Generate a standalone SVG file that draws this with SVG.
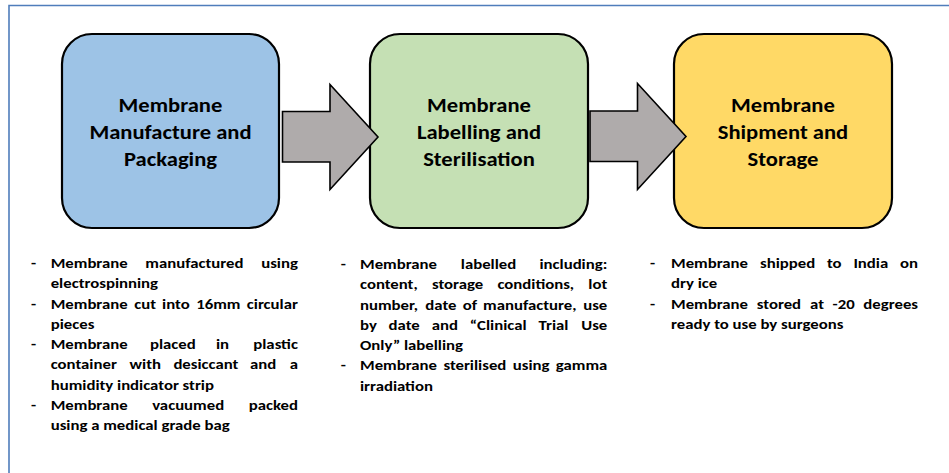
<svg xmlns="http://www.w3.org/2000/svg" width="949" height="473" viewBox="0 0 949 473">
<style>
.box{stroke:#000;stroke-width:2.2}
.arrow{fill:#AFABAB;stroke:#000;stroke-width:1.6;stroke-linejoin:miter}
text{font-family:Carlito,"Liberation Sans Narrow","Liberation Sans",sans-serif;font-weight:bold;fill:#000;transform-box:fill-box}
.title{font-size:20px;text-anchor:middle;transform-origin:center;transform:scaleX(1.13)}
.body text{font-size:14.7px;transform-origin:left center;transform:scaleX(1.14)}
.body text.e{text-anchor:end;transform-origin:right center}
</style>
<rect width="949" height="473" fill="#fff"/>
<path d="M9,473 V5.5 H949" fill="none" stroke="#4F7DBB" stroke-width="1.6"/>
<g id="node1">
<rect class="box" x="62" y="34" width="217" height="194" rx="30" fill="#9DC3E6"/>
<text class="title" x="170.5" y="112">Membrane</text>
<text class="title" x="170.5" y="139">Manufacture and</text>
<text class="title" x="170.5" y="166">Packaging</text>
</g>
<g id="node2">
<rect class="box" x="370" y="34" width="218" height="194" rx="30" fill="#C5E0B4"/>
<text class="title" x="479" y="112">Membrane</text>
<text class="title" x="479" y="139">Labelling and</text>
<text class="title" x="479" y="166">Sterilisation</text>
</g>
<g id="node3">
<rect class="box" x="674" y="34" width="218" height="194" rx="30" fill="#FFD966"/>
<text class="title" x="783" y="112">Membrane</text>
<text class="title" x="783" y="139">Shipment and</text>
<text class="title" x="783" y="166">Storage</text>
</g>
<g id="connectors">
<polygon class="arrow" points="282.5,111.5 330,111.5 330,84.5 378,137 330,189.5 330,162 282.5,162"/>
<polygon class="arrow" points="590,111 637.5,111 637.5,83.5 686,136.5 637.5,189.5 637.5,161.5 590,161.5"/>
</g>
<g id="notes1" class="body">
<text x="31" y="268">-</text>
<text x="50.7" y="268">Membrane</text><text x="145.3" y="268">manufactured</text><text class="e" x="298" y="268">using</text>
<text x="50.7" y="288.3">electrospinning</text>
<text x="31" y="308.6">-</text>
<text x="50.7" y="308.6">Membrane</text><text x="134.2" y="308.6">cut</text><text x="162.1" y="308.6">into</text><text x="196.2" y="308.6">16mm</text><text class="e" x="298" y="308.6">circular</text>
<text x="50.7" y="328.9">pieces</text>
<text x="31" y="349.2">-</text>
<text x="50.7" y="349.2">Membrane</text><text x="150" y="349.2">placed</text><text x="216" y="349.2">in</text><text class="e" x="298" y="349.2">plastic</text>
<text x="50.7" y="369.5">container</text><text x="129.6" y="369.5">with</text><text x="173.4" y="369.5">desiccant</text><text x="250" y="369.5">and</text><text class="e" x="298" y="369.5">a</text>
<text x="50.7" y="389.8">humidity indicator strip</text>
<text x="31" y="410.1">-</text>
<text x="50.7" y="410.1">Membrane</text><text x="152.2" y="410.1">vacuumed</text><text class="e" x="298" y="410.1">packed</text>
<text x="50.7" y="430.4">using a medical grade bag</text>
</g>
<g id="notes2" class="body">
<text x="340.7" y="269">-</text>
<text x="360" y="269">Membrane</text><text x="460.8" y="269">labelled</text><text class="e" x="607.3" y="269">including:</text>
<text x="360" y="289.3">content,</text><text x="432" y="289.3">storage</text><text x="497.4" y="289.3">conditions,</text><text class="e" x="607.3" y="289.3">lot</text>
<text x="360" y="309.6">number,</text><text x="425.3" y="309.6">date</text><text x="462.8" y="309.6">of</text><text x="483.1" y="309.6">manufacture,</text><text class="e" x="607.3" y="309.6">use</text>
<text x="360" y="329.9">by</text><text x="388.6" y="329.9">date</text><text x="431.8" y="329.9">and</text><text x="469.8" y="329.9">“Clinical</text><text x="538.6" y="329.9">Trial</text><text class="e" x="607.3" y="329.9">Use</text>
<text x="360" y="350.2">Only” labelling</text>
<text x="340.7" y="370.5">-</text>
<text x="360" y="370.5">Membrane</text><text x="443.4" y="370.5">sterilised</text><text x="512.8" y="370.5">using</text><text class="e" x="607.3" y="370.5">gamma</text>
<text x="360" y="390.8">irradiation</text>
</g>
<g id="notes3" class="body">
<text x="650" y="268">-</text>
<text x="671" y="268">Membrane</text><text x="760" y="268">shipped</text><text x="826.9" y="268">to</text><text x="853.4" y="268">India</text><text class="e" x="918" y="268">on</text>
<text x="671" y="288.3">dry ice</text>
<text x="650" y="308.6">-</text>
<text x="671" y="308.6">Membrane</text><text x="756.8" y="308.6">stored</text><text x="810.1" y="308.6">at</text><text x="832.6" y="308.6">-20</text><text class="e" x="918" y="308.6">degrees</text>
<text x="671" y="328.9">ready to use by surgeons</text>
</g>
</svg>
